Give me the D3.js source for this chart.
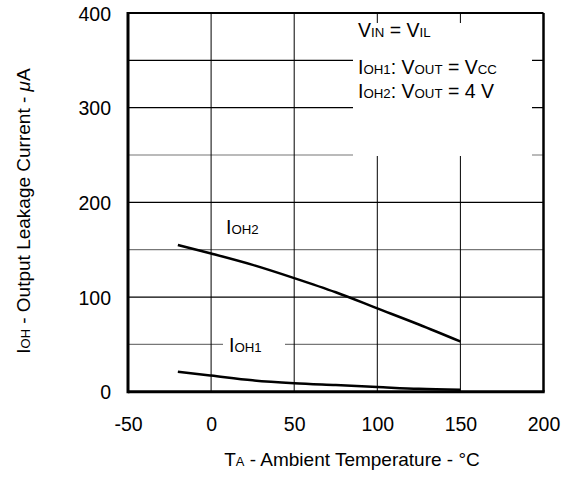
<!DOCTYPE html>
<html><head><meta charset="utf-8">
<script src="https://cdn.jsdelivr.net/npm/d3@7"></script>
<style>body{margin:0;background:#fff}svg{display:block;font-family:"Liberation Sans",Arial,sans-serif}</style>
</head><body><svg id="c" width="571" height="479"></svg>
<script>
const temps = [-20, 0, 25, 50, 75, 100, 125, 150];
const ioh2 = [155, 146, 134, 120, 105, 88, 71, 53];
const ioh1 = [21, 17, 12, 9, 7, 5, 3, 2];
const xTicks = [-50, 0, 50, 100, 150, 200];
const yTicks = [0, 100, 200, 300, 400];
const yGrid = [50, 100, 150, 200, 250, 300, 350];
const xGrid = [0, 50, 100, 150];

const svg = d3.select("#c");
const x = d3.scaleLinear().domain([-50, 200]).range([128, 543.5]);
const y = d3.scaleLinear().domain([0, 400]).range([391.7, 13]);
const FS = 19.5;

// grid
svg.append("g").selectAll("line").data(yGrid).join("line")
  .attr("x1", x(-50)).attr("x2", x(200)).attr("y1", d => y(d)).attr("y2", d => y(d))
  .attr("stroke", d => (d % 100 === 0 || d === 350) ? "#000" : "#777").attr("stroke-width", 1.2);
svg.append("g").selectAll("line").data(xGrid).join("line")
  .attr("x1", d => x(d)).attr("x2", d => x(d)).attr("y1", y(0)).attr("y2", y(400))
  .attr("stroke", "#000").attr("stroke-width", 1);

// annotation box (white)
svg.append("rect").attr("x", 353).attr("y", 23).attr("width", 179).attr("height", 133).attr("fill", "#fff");
// IOH1 label background
svg.append("rect").attr("x", 223).attr("y", 337).attr("width", 62).attr("height", 16).attr("fill", "#fff");

// frame
svg.append("line").attr("x1", x(-50)).attr("x2", x(200)).attr("y1", y(400)).attr("y2", y(400)).attr("stroke", "#000").attr("stroke-width", 2);
svg.append("line").attr("x1", x(200)).attr("x2", x(200)).attr("y1", y(400)).attr("y2", y(0)).attr("stroke", "#000").attr("stroke-width", 2.5);
svg.append("line").attr("x1", x(-50)).attr("x2", x(-50)).attr("y1", y(400) - 1).attr("y2", y(0) + 1.5).attr("stroke", "#000").attr("stroke-width", 3);
svg.append("line").attr("x1", x(-50)).attr("x2", x(200) + 1.2).attr("y1", y(0)).attr("y2", y(0)).attr("stroke", "#000").attr("stroke-width", 3);

// axes labels via d3 axes
const xAxis = svg.append("g").attr("transform", `translate(0,${y(0) + 25})`)
  .call(d3.axisBottom(x).tickValues(xTicks).tickSize(0).tickPadding(0).tickFormat(d => String(d)));
xAxis.select(".domain").remove();
xAxis.selectAll("text").attr("font-size", FS).attr("fill", "#000").attr("font-family", "Liberation Sans, Arial, sans-serif");

const yAxis = svg.append("g").attr("transform", `translate(111,0)`)
  .call(d3.axisLeft(y).tickValues(yTicks).tickSize(0).tickPadding(0).tickFormat(d => String(d)));
yAxis.select(".domain").remove();
yAxis.selectAll("text").attr("font-size", FS).attr("fill", "#000").attr("font-family", "Liberation Sans, Arial, sans-serif").attr("dy", "0.36em");

// curves
const line = d3.line().x((d, i) => x(temps[i])).y(d => y(d)).curve(d3.curveMonotoneX);
svg.append("path").attr("d", line(ioh2)).attr("fill", "none").attr("stroke", "#000").attr("stroke-width", 2.5);
svg.append("path").attr("d", line(ioh1)).attr("fill", "none").attr("stroke", "#000").attr("stroke-width", 2.5);

function rich(parent, xx, yy, parts, size, anchor) {
  const t = parent.append("text").attr("x", xx).attr("y", yy).attr("font-size", size).attr("fill", "#000");
  if (anchor) t.attr("text-anchor", anchor);
  parts.forEach(p => {
    const s = t.append("tspan").text(p[0]);
    if (p[1]) s.attr("font-size", size * 0.68);
    if (p[2]) s.attr("font-style", "italic");
  });
  return t;
}

// curve labels
rich(svg, 226, 234, [["I"], ["OH2", 1]], FS);
rich(svg, 229, 352, [["I"], ["OH1", 1]], FS);

// annotation
rich(svg, 358, 37, [["V"], ["IN", 1], [" = V"], ["IL", 1]], FS);
rich(svg, 358, 74, [["I"], ["OH1", 1], [": V"], ["OUT", 1], [" = V"], ["CC", 1]], FS);
rich(svg, 358, 97.5, [["I"], ["OH2", 1], [": V"], ["OUT", 1], [" = 4 V"]], FS);

// axis titles
rich(svg, 352, 466, [["T"], ["A", 1], [" - Ambient Temperature - °C"]], 19, "middle");
rich(svg.append("g").attr("transform", "translate(30,211) rotate(-90)"), 0, 0,
  [["I"], ["OH", 1], [" - Output Leakage Current - "], ["μ", 0, 1], ["A"]], 19, "middle");
</script></body></html>
